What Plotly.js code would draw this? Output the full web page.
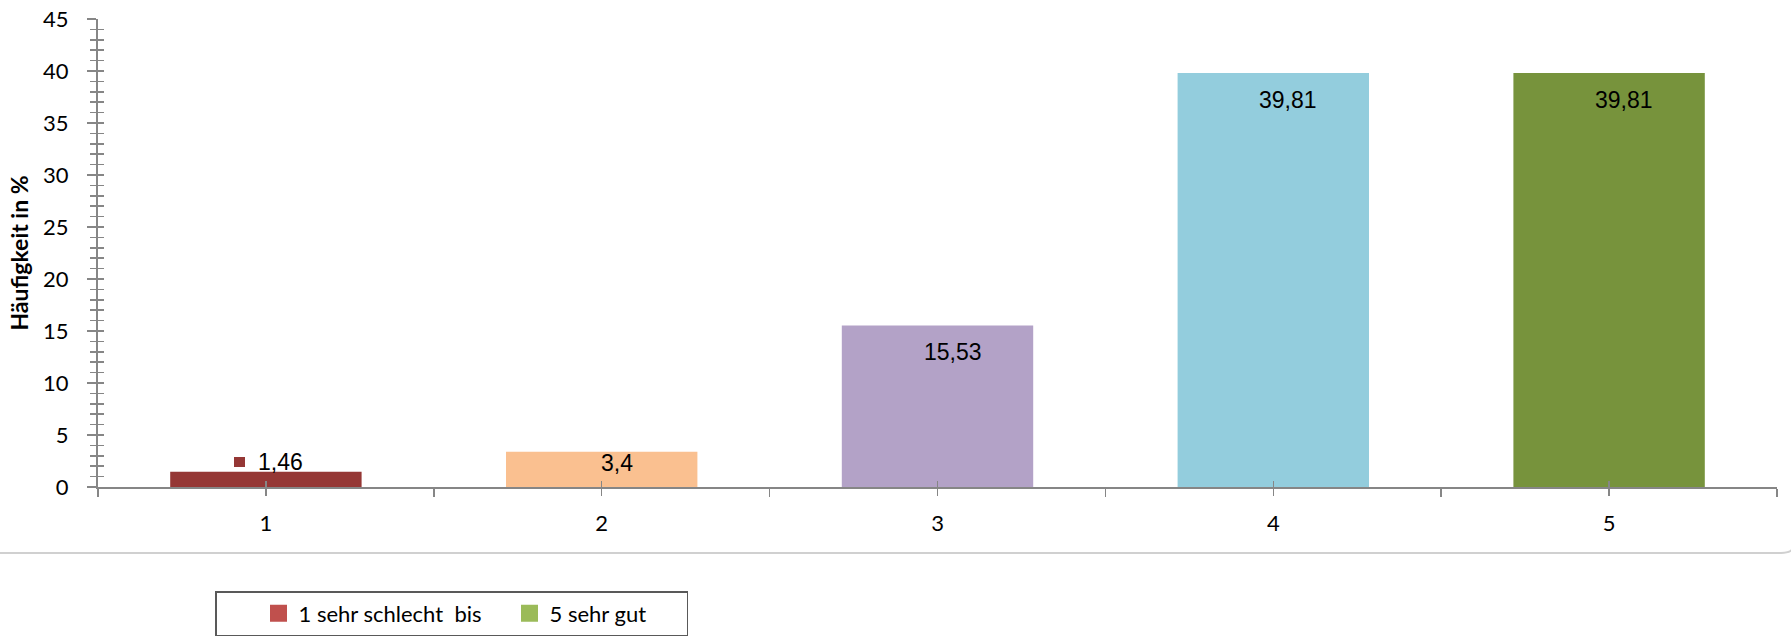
<!DOCTYPE html>
<html>
<head>
<meta charset="utf-8">
<script src="https://cdn.plot.ly/plotly-3.0.1.min.js"></script>
<style>
  html, body { margin: 0; padding: 0; background: #ffffff; }
  #chart { width: 1791px; height: 639px; }
</style>
</head>
<body>
<div id="chart"></div>
<script>
// ---- data ----
const categories = [1, 2, 3, 4, 5];
const values = [1.46, 3.4, 15.53, 39.81, 39.81];
const barColors = ['#953735', '#FAC090', '#B3A2C7', '#93CDDD', '#77933C'];
const legendNames = ['1 sehr schlecht\u00a0 bis', '5 sehr gut'];
const legendColors = ['#C0504D', '#9BBB59'];
const yTitle = 'Häufigkeit in %';

// ---- geometry / style ----
const W = 1791, H = 639;
const M = { l: 98, r: 14, t: 19, b: 152, autoexpand: false };
const plotW = W - M.l - M.r, plotH = H - M.t - M.b;
const yMax = 45;
const px2paperX = px => (px - M.l) / plotW;
const px2paperY = py => (H - M.b - py) / plotH;
const legendEntryWidths = [164, 132];

const fmt = v => String(v).replace('.', ',');
const labelShift = v => {
  const h = v / yMax * plotH;
  if (h > 100) return -27;
  if (h > 30) return -11;
  return 10;
};

const traces = [{
  type: 'bar',
  x: categories,
  y: values,
  marker: { color: barColors },
  showlegend: false,
  hoverinfo: 'x+y'
}];
legendNames.forEach((n, i) => {
  traces.push({
    type: 'bar', x: [null], y: [null], name: n,
    xaxis: 'x2', yaxis: 'y2',
    marker: { color: legendColors[i], line: { color: legendColors[i], width: 5 } },
    legendwidth: legendEntryWidths[i],
    showlegend: true
  });
});

const annotations = [];
categories.forEach((c, i) => {
  annotations.push({
    x: c, y: values[i], xref: 'x', yref: 'y',
    text: fmt(values[i]), showarrow: false,
    xshift: 15, yshift: labelShift(values[i]), yanchor: 'middle',
    font: { family: 'Liberation Sans, Arial, sans-serif', size: 23, color: '#000000' }
  });
  annotations.push({
    x: c, y: values[i], xref: 'x', yref: 'y',
    text: '\u00a0', showarrow: false, width: 11, height: 10,
    borderpad: 0, borderwidth: 0, bgcolor: barColors[i],
    xshift: -26, yshift: labelShift(values[i]), yanchor: 'middle',
    font: { size: 6 }
  });
});

const axisGray = '#868686';
const tickFont = { family: 'Lato, Carlito, Calibri, sans-serif', size: 22, color: '#000000' };

const borderY = 553;
const shapes = [{
  type: 'path', xref: 'paper', yref: 'paper',
  path: 'M ' + px2paperX(-5) + ',' + px2paperY(borderY) +
        ' L ' + px2paperX(1781) + ',' + px2paperY(borderY) +
        ' Q ' + px2paperX(1791) + ',' + px2paperY(borderY) + ' ' + px2paperX(1793) + ',' + px2paperY(borderY - 5),
  line: { color: '#d0d0d0', width: 2 }
}];

const layout = {
  width: W, height: H,
  margin: M,
  paper_bgcolor: '#ffffff', plot_bgcolor: '#ffffff',
  bargap: 0.43,
  showlegend: true,
  font: tickFont,
  xaxis: {
    range: [0.5, 5.5], tickmode: 'array', tickvals: categories, ticktext: categories.map(String),
    ticks: 'outside', ticklen: 7, tickwidth: 1.5, tickcolor: axisGray,
    minor: { tickmode: 'linear', tick0: 0.5, dtick: 1, ticks: 'outside', ticklen: 8, tickwidth: 1.5, tickcolor: axisGray, showgrid: false },
    showline: true, linecolor: axisGray, linewidth: 2,
    showgrid: false, zeroline: false, fixedrange: true,
    tickfont: tickFont, ticklabelstandoff: 9
  },
  xaxis2: {
    overlaying: 'x', anchor: 'y2', range: [0.5, 5.5], tickmode: 'array', tickvals: categories,
    ticks: 'inside', ticklen: 6, tickwidth: 1.5, tickcolor: axisGray,
    showticklabels: false, showline: false, showgrid: false, zeroline: false, fixedrange: true
  },
  yaxis: {
    range: [0, yMax], tickmode: 'linear', tick0: 0, dtick: 5,
    ticks: 'outside', ticklen: 9, tickwidth: 1.5, tickcolor: axisGray,
    minor: { tickmode: 'linear', tick0: 0, dtick: 1, ticks: 'outside', ticklen: 6, tickwidth: 1.5, tickcolor: axisGray, showgrid: false },
    showline: true, linecolor: axisGray, linewidth: 2,
    showgrid: false, zeroline: false, fixedrange: true,
    tickfont: tickFont, ticklabelstandoff: 14,
    title: { text: yTitle, font: { family: 'Lato, Carlito, Calibri, sans-serif', size: 23, color: '#000000', weight: 'bold' }, standoff: 8 }
  },
  yaxis2: {
    overlaying: 'y', anchor: 'x2', side: 'left', range: [0, yMax], tickmode: 'linear', tick0: 0, dtick: 5,
    ticks: 'inside', ticklen: 6, tickwidth: 1.5, tickcolor: axisGray,
    minor: { tickmode: 'linear', tick0: 0, dtick: 1, ticks: 'inside', ticklen: 6, tickwidth: 1.5, tickcolor: axisGray, showgrid: false },
    showticklabels: false, showline: false, showgrid: false, zeroline: false, fixedrange: true
  },
  legend: {
    orientation: 'h', x: px2paperX(215), y: px2paperY(591), xanchor: 'left', yanchor: 'top',
    bordercolor: '#595959', borderwidth: 1.5, bgcolor: '#ffffff',
    font: { family: 'Lato, Carlito, Calibri, sans-serif', size: 22, color: '#000000' },
    indentation: 42, traceorder: 'normal'
  },
  annotations: annotations,
  shapes: shapes
};

Plotly.newPlot('chart', traces, layout, { displayModeBar: false, staticPlot: true });
</script>
</body>
</html>
